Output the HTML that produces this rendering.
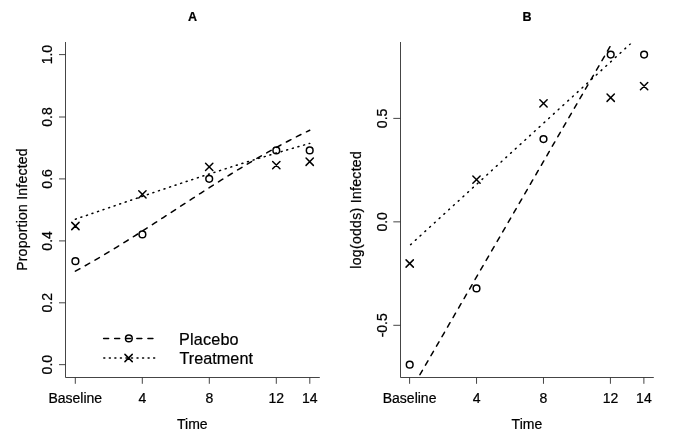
<!DOCTYPE html><html><head><meta charset="utf-8"><style>html,body{margin:0;padding:0;background:#fff}svg{display:block;filter:grayscale(1)}text{font-family:"Liberation Sans",sans-serif;fill:#000;stroke:#000;stroke-width:0.22px}</style></head><body>
<svg width="685" height="437" viewBox="0 0 685 437">
<rect width="685" height="437" fill="#fff"/>
<defs><clipPath id="ca"><rect x="66" y="42.0" width="254" height="335.5"/></clipPath><clipPath id="cb"><rect x="401" y="43.6" width="253" height="333.9"/></clipPath></defs>
<g stroke="#303030" stroke-width="0.9" fill="none" stroke-linecap="butt">
<path d="M65.5 42.0 V377.5 H319.8"/>
<path d="M75.30 377.5 V383.8"/>
<path d="M142.30 377.5 V383.8"/>
<path d="M209.30 377.5 V383.8"/>
<path d="M276.30 377.5 V383.8"/>
<path d="M309.80 377.5 V383.8"/>
<path d="M65.5 364.65 H59.00"/>
<path d="M65.5 302.80 H59.00"/>
<path d="M65.5 240.90 H59.00"/>
<path d="M65.5 178.90 H59.00"/>
<path d="M65.5 117.00 H59.00"/>
<path d="M65.5 54.60 H59.00"/>
</g>
<text x="75.30" y="402.9" font-size="14" text-anchor="middle">Baseline</text>
<text x="142.30" y="402.9" font-size="14" text-anchor="middle">4</text>
<text x="209.30" y="402.9" font-size="14" text-anchor="middle">8</text>
<text x="276.30" y="402.9" font-size="14" text-anchor="middle">12</text>
<text x="309.80" y="402.9" font-size="14" text-anchor="middle">14</text>
<text transform="translate(52.0 364.65) rotate(-90)" font-size="14" text-anchor="middle">0.0</text>
<text transform="translate(52.0 302.80) rotate(-90)" font-size="14" text-anchor="middle">0.2</text>
<text transform="translate(52.0 240.90) rotate(-90)" font-size="14" text-anchor="middle">0.4</text>
<text transform="translate(52.0 178.90) rotate(-90)" font-size="14" text-anchor="middle">0.6</text>
<text transform="translate(52.0 117.00) rotate(-90)" font-size="14" text-anchor="middle">0.8</text>
<text transform="translate(52.0 54.60) rotate(-90)" font-size="14" text-anchor="middle">1.0</text>
<text x="192.30" y="428.9" font-size="14" text-anchor="middle">Time</text>
<text x="192.6" y="21.1" font-size="12.5" font-weight="bold" text-anchor="middle">A</text>
<text transform="translate(26.5 209.6) rotate(-90)" font-size="14" text-anchor="middle" textLength="122.5" lengthAdjust="spacing">Proportion Infected</text>
<polyline points="75.40,271.20 79.59,268.89 83.77,266.55 87.96,264.18 92.14,261.78 96.33,259.35 100.51,256.89 104.70,254.40 108.88,251.89 113.06,249.36 117.25,246.80 121.44,244.22 125.62,241.62 129.81,239.00 133.99,236.37 138.18,233.72 142.36,231.05 146.55,228.37 150.73,225.68 154.91,222.97 159.10,220.26 163.28,217.54 167.47,214.82 171.66,212.10 175.84,209.37 180.02,206.64 184.21,203.91 188.39,201.19 192.58,198.47 196.76,195.76 200.95,193.06 205.13,190.37 209.32,187.68 213.50,185.01 217.69,182.36 221.88,179.72 226.06,177.10 230.25,174.50 234.43,171.92 238.61,169.36 242.80,166.82 246.98,164.31 251.17,161.83 255.35,159.37 259.54,156.93 263.73,154.53 267.91,152.15 272.10,149.81 276.28,147.50 280.46,145.22 284.65,142.97 288.83,140.76 293.02,138.58 297.20,136.43 301.39,134.32 305.57,132.25 309.76,130.21" fill="none" stroke="#000" stroke-width="1.5" stroke-dasharray="5.1 6.15" stroke-linecap="round" clip-path="url(#ca)"/>
<polyline points="75.40,219.20 79.59,217.78 83.77,216.35 87.96,214.92 92.14,213.48 96.33,212.05 100.51,210.62 104.70,209.18 108.88,207.75 113.06,206.32 117.25,204.89 121.44,203.46 125.62,202.02 129.81,200.60 133.99,199.17 138.18,197.74 142.36,196.32 146.55,194.89 150.73,193.47 154.91,192.06 159.10,190.64 163.28,189.23 167.47,187.83 171.66,186.42 175.84,185.02 180.02,183.62 184.21,182.23 188.39,180.85 192.58,179.46 196.76,178.08 200.95,176.71 205.13,175.34 209.32,173.98 213.50,172.63 217.69,171.28 221.88,169.93 226.06,168.59 230.25,167.26 234.43,165.94 238.61,164.62 242.80,163.31 246.98,162.00 251.17,160.71 255.35,159.42 259.54,158.14 263.73,156.86 267.91,155.60 272.10,154.34 276.28,153.09 280.46,151.85 284.65,150.61 288.83,149.39 293.02,148.17 297.20,146.97 301.39,145.77 305.57,144.58 309.76,143.40" fill="none" stroke="#000" stroke-width="1.5" stroke-dasharray="1.0 4.852" stroke-linecap="round" clip-path="url(#ca)"/>
<circle cx="75.40" cy="261.20" r="3.35" fill="none" stroke="#000" stroke-width="1.5"/>
<circle cx="142.40" cy="234.40" r="3.35" fill="none" stroke="#000" stroke-width="1.5"/>
<circle cx="209.20" cy="178.80" r="3.35" fill="none" stroke="#000" stroke-width="1.5"/>
<circle cx="276.30" cy="150.45" r="3.35" fill="none" stroke="#000" stroke-width="1.5"/>
<circle cx="309.70" cy="150.45" r="3.35" fill="none" stroke="#000" stroke-width="1.5"/>
<path d="M71.75 222.35 L79.05 229.65 M71.75 229.65 L79.05 222.35" fill="none" stroke="#000" stroke-width="1.5" stroke-linecap="round"/>
<path d="M138.75 190.75 L146.05 198.05 M138.75 198.05 L146.05 190.75" fill="none" stroke="#000" stroke-width="1.5" stroke-linecap="round"/>
<path d="M205.55 163.25 L212.85 170.55 M205.55 170.55 L212.85 163.25" fill="none" stroke="#000" stroke-width="1.5" stroke-linecap="round"/>
<path d="M272.65 161.45 L279.95 168.75 M272.65 168.75 L279.95 161.45" fill="none" stroke="#000" stroke-width="1.5" stroke-linecap="round"/>
<path d="M306.05 158.05 L313.35 165.35 M306.05 165.35 L313.35 158.05" fill="none" stroke="#000" stroke-width="1.5" stroke-linecap="round"/>
<path d="M103.6 338.4 H153.4" stroke="#000" stroke-width="1.5" stroke-dasharray="5.0 6.08" stroke-linecap="round" fill="none"/>
<path d="M103.8 358 H155.5" stroke="#000" stroke-width="1.5" stroke-dasharray="1.0 4.54" stroke-linecap="round" fill="none"/>
<circle cx="128.85" cy="338.40" r="3.35" fill="none" stroke="#000" stroke-width="1.5"/>
<path d="M124.95 354.35 L132.25 361.65 M124.95 361.65 L132.25 354.35" fill="none" stroke="#000" stroke-width="1.5" stroke-linecap="round"/>
<text x="179" y="345" font-size="16.2" letter-spacing="0.18">Placebo</text>
<text x="179.4" y="364.4" font-size="16.2" letter-spacing="0.05">Treatment</text>
<g stroke="#303030" stroke-width="0.9" fill="none" stroke-linecap="butt">
<path d="M400.5 42.0 V377.5 H653.8"/>
<path d="M409.60 377.5 V383.8"/>
<path d="M476.54 377.5 V383.8"/>
<path d="M543.48 377.5 V383.8"/>
<path d="M610.42 377.5 V383.8"/>
<path d="M643.89 377.5 V383.8"/>
<path d="M400.5 325.30 H393.30"/>
<path d="M400.5 221.85 H393.30"/>
<path d="M400.5 118.40 H393.30"/>
</g>
<text x="409.60" y="402.9" font-size="14" text-anchor="middle">Baseline</text>
<text x="476.54" y="402.9" font-size="14" text-anchor="middle">4</text>
<text x="543.48" y="402.9" font-size="14" text-anchor="middle">8</text>
<text x="610.42" y="402.9" font-size="14" text-anchor="middle">12</text>
<text x="643.89" y="402.9" font-size="14" text-anchor="middle">14</text>
<text transform="translate(387.0 325.30) rotate(-90)" font-size="14" text-anchor="middle">-0.5</text>
<text transform="translate(387.0 221.85) rotate(-90)" font-size="14" text-anchor="middle">0.0</text>
<text transform="translate(387.0 118.40) rotate(-90)" font-size="14" text-anchor="middle">0.5</text>
<text x="526.90" y="428.9" font-size="14" text-anchor="middle">Time</text>
<text x="527.1" y="21.2" font-size="12.5" font-weight="bold" text-anchor="middle">B</text>
<text transform="translate(360.6 210) rotate(-90)" font-size="14" text-anchor="middle" textLength="117.5" lengthAdjust="spacing">log(odds) Infected</text>
<path d="M409.60 392.48 L643.96 -11.89" fill="none" stroke="#000" stroke-width="1.5" stroke-dasharray="5.0 6.0" stroke-dashoffset="1.4" stroke-linecap="round" clip-path="url(#cb)"/>
<path d="M409.60 245.56 L643.96 31.42" fill="none" stroke="#000" stroke-width="1.5" stroke-dasharray="1.0 5.45" stroke-dashoffset="-1.4" stroke-linecap="round" clip-path="url(#cb)"/>
<circle cx="409.70" cy="364.70" r="3.35" fill="none" stroke="#000" stroke-width="1.5"/>
<circle cx="476.50" cy="288.40" r="3.35" fill="none" stroke="#000" stroke-width="1.5"/>
<circle cx="543.50" cy="139.10" r="3.35" fill="none" stroke="#000" stroke-width="1.5"/>
<circle cx="610.70" cy="54.60" r="3.35" fill="none" stroke="#000" stroke-width="1.5"/>
<circle cx="644.10" cy="54.60" r="3.35" fill="none" stroke="#000" stroke-width="1.5"/>
<path d="M406.05 259.85 L413.35 267.15 M406.05 267.15 L413.35 259.85" fill="none" stroke="#000" stroke-width="1.5" stroke-linecap="round"/>
<path d="M472.85 175.95 L480.15 183.25 M472.85 183.25 L480.15 175.95" fill="none" stroke="#000" stroke-width="1.5" stroke-linecap="round"/>
<path d="M539.85 99.75 L547.15 107.05 M539.85 107.05 L547.15 99.75" fill="none" stroke="#000" stroke-width="1.5" stroke-linecap="round"/>
<path d="M607.05 94.05 L614.35 101.35 M607.05 101.35 L614.35 94.05" fill="none" stroke="#000" stroke-width="1.5" stroke-linecap="round"/>
<path d="M640.45 82.45 L647.75 89.75 M640.45 89.75 L647.75 82.45" fill="none" stroke="#000" stroke-width="1.5" stroke-linecap="round"/>
</svg></body></html>
